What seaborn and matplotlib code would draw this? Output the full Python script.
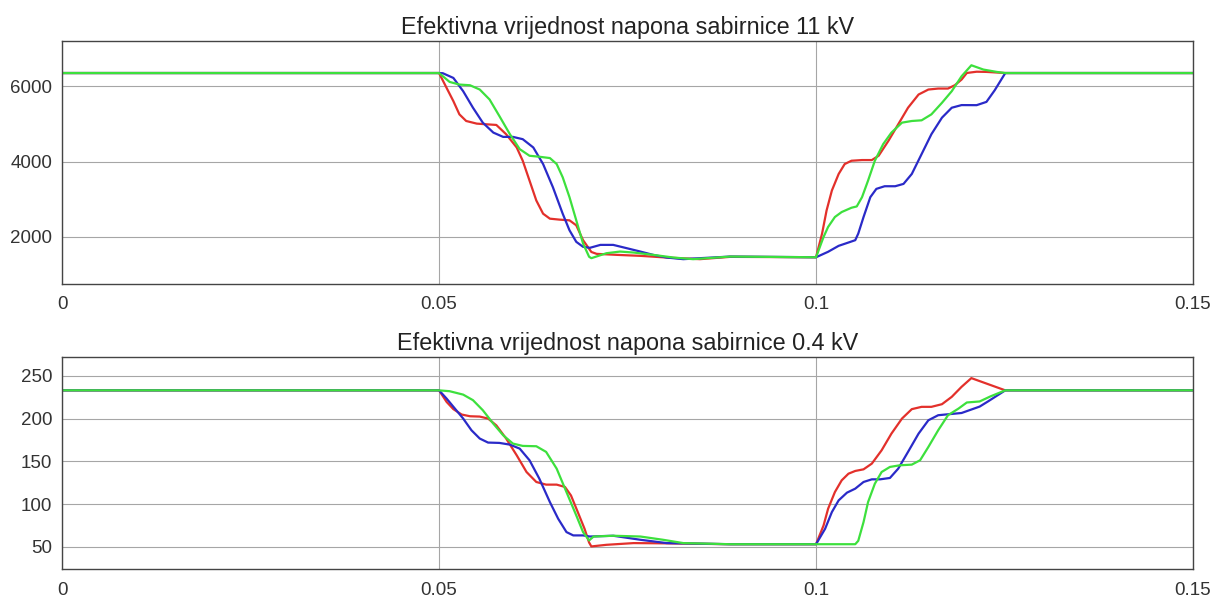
import pandas as pd
import matplotlib
matplotlib.use("Agg")
import matplotlib.pyplot as plt
import seaborn as sns

# -------------------------------
# Data
# -------------------------------
title_11 = "Efektivna vrijednost napona sabirnice 11 kV"
title_04 = "Efektivna vrijednost napona sabirnice 0.4 kV"

x_ticks = [0, 0.05, 0.1, 0.15]
x_tick_labels = ["0", "0.05", "0.1", "0.15"]
y_ticks_11 = [2000, 4000, 6000]
y_ticks_04 = [50, 100, 150, 200, 250]

# 11 kV bus
t_red_11 = [0, 0.05, 0.051, 0.0519, 0.0527, 0.0536, 0.055, 0.0563, 0.0576, 0.0589, 0.0603,
            0.0611, 0.062, 0.0629, 0.0638, 0.0647, 0.066, 0.0673, 0.0682, 0.0691, 0.0702,
            0.0709, 0.0736, 0.0767, 0.0802, 0.0846, 0.0886, 0.1, 0.1008, 0.1014, 0.1021,
            0.103, 0.1038, 0.1047, 0.1061, 0.1074, 0.1083, 0.1096, 0.1109, 0.1122, 0.1136,
            0.1149, 0.1162, 0.1175, 0.1184, 0.1193, 0.12, 0.1213, 0.1226, 0.1251, 0.15]
v_red_11 = [6350, 6350, 5956, 5604, 5253, 5077, 5007, 4989, 4972, 4725, 4374,
            4022, 3495, 2967, 2616, 2484, 2458, 2440, 2308, 1913, 1600,
            1550, 1523, 1497, 1452, 1409, 1470, 1460, 2088, 2704, 3231,
            3671, 3934, 4022, 4040, 4040, 4154, 4550, 4989, 5429, 5780,
            5912, 5938, 5938, 6026, 6176, 6352, 6385, 6380, 6350, 6350]

t_blue_11 = [0, 0.05, 0.0505, 0.0519, 0.0532, 0.0545, 0.0558, 0.0572, 0.0585, 0.0598, 0.0611,
             0.0625, 0.0638, 0.0651, 0.0664, 0.0673, 0.0682, 0.0691, 0.07, 0.0714, 0.0731,
             0.0749, 0.0767, 0.0784, 0.0802, 0.0824, 0.0846, 0.0886, 0.1, 0.1016, 0.103,
             0.1043, 0.1052, 0.1056, 0.1063, 0.1072, 0.108, 0.1091, 0.1105, 0.1116, 0.1127,
             0.114, 0.1153, 0.1167, 0.118, 0.1193, 0.1213, 0.1226, 0.1237, 0.1251, 0.15]
v_blue_11 = [6350, 6350, 6345, 6220, 5868, 5429, 5033, 4769, 4655, 4655, 4594,
             4374, 3934, 3319, 2616, 2176, 1869, 1737, 1710, 1788, 1788,
             1700, 1611, 1523, 1452, 1409, 1435, 1478, 1460, 1605, 1763,
             1851, 1913, 2088, 2528, 3055, 3275, 3345, 3345, 3407, 3671,
             4198, 4726, 5165, 5429, 5499, 5497, 5584, 5894, 6350, 6350]

t_green_11 = [0, 0.05, 0.0514, 0.0527, 0.0541, 0.0554, 0.0567, 0.058, 0.0594, 0.0607, 0.062,
              0.0633, 0.0647, 0.0656, 0.0664, 0.0673, 0.0682, 0.0691, 0.0699, 0.0702, 0.0722,
              0.074, 0.0758, 0.0784, 0.0811, 0.0837, 0.0886, 0.1, 0.101, 0.1016, 0.1025,
              0.1034, 0.1047, 0.1054, 0.1061, 0.1069, 0.1078, 0.1089, 0.11, 0.1114, 0.1127,
              0.114, 0.1153, 0.1167, 0.118, 0.1193, 0.1206, 0.1222, 0.124, 0.1251, 0.15]
v_green_11 = [6350, 6350, 6114, 6044, 6026, 5912, 5648, 5209, 4725, 4330, 4154,
              4128, 4093, 3934, 3583, 3055, 2440, 1825, 1473, 1435, 1567,
              1611, 1585, 1523, 1452, 1409, 1478, 1460, 2000, 2264, 2528,
              2660, 2774, 2809, 3055, 3495, 4022, 4462, 4769, 5033, 5077,
              5095, 5253, 5560, 5868, 6264, 6556, 6442, 6379, 6350, 6350]

# 0.4 kV bus
t_red_04 = [0, 0.05, 0.051, 0.0519, 0.053, 0.0541, 0.0554, 0.0565, 0.0576, 0.0589, 0.0603,
            0.0616, 0.0629, 0.0642, 0.0656, 0.0667, 0.0675, 0.0684, 0.0693, 0.0699, 0.0702,
            0.0722, 0.0758, 0.0802, 0.0886, 0.1, 0.101, 0.1016, 0.1025, 0.1034, 0.1043,
            0.1052, 0.1063, 0.1074, 0.1087, 0.11, 0.1114, 0.1127, 0.114, 0.1153, 0.1167,
            0.118, 0.1193, 0.1206, 0.1251, 0.15]
v_red_04 = [233, 233, 219.5, 211, 204.7, 202.7, 202.3, 200, 192, 176.6, 157,
            137.5, 125.8, 122.7, 122.7, 120, 110, 90.6, 71, 55, 50.4,
            52.3, 54.3, 54, 53, 53, 75, 94.5, 114, 127.7, 135.5,
            138.7, 140.6, 147.3, 162.9, 182.4, 200, 211, 213.7, 213.7, 216.8,
            225.4, 237.1, 247.3, 233, 233]

t_blue_04 = [0, 0.05, 0.051, 0.0521, 0.0532, 0.0543, 0.0554, 0.0565, 0.058, 0.0594, 0.0607,
             0.062, 0.0633, 0.0647, 0.0658, 0.0669, 0.0678, 0.0691, 0.07, 0.0731, 0.0767,
             0.0802, 0.0886, 0.1, 0.1012, 0.1021, 0.103, 0.1041, 0.1052, 0.1063, 0.1074,
             0.1085, 0.1098, 0.1109, 0.1122, 0.1136, 0.1149, 0.1162, 0.1175, 0.1193, 0.1217,
             0.1228, 0.1251, 0.15]
v_blue_04 = [233, 233, 223.4, 211.7, 200, 186.3, 176.6, 171.9, 171.5, 169.5, 164.8,
             151.2, 129.7, 102.3, 82.8, 67.2, 63.3, 63.3, 62, 62.9, 58.2,
             54.3, 53, 53, 71, 90.6, 104.3, 113.3, 118, 125.8, 128.9,
             128.9, 130.5, 141.4, 161, 182.4, 198, 203.9, 205, 206.5, 214,
             220, 233, 233]

t_green_04 = [0, 0.05, 0.0514, 0.0532, 0.0545, 0.0558, 0.0572, 0.0585, 0.0598, 0.0611, 0.0629,
              0.0642, 0.0656, 0.0669, 0.0682, 0.0691, 0.0699, 0.0705, 0.0731, 0.0767, 0.0797,
              0.0824, 0.0886, 0.1, 0.1052, 0.1056, 0.1063, 0.1069, 0.1078, 0.1087, 0.1098,
              0.1111, 0.1127, 0.1138, 0.1149, 0.1162, 0.1175, 0.1189, 0.12, 0.1217, 0.1231,
              0.1251, 0.15]
v_green_04 = [233, 233, 232, 228, 221.5, 209.8, 194, 180.5, 170.7, 168, 167.6,
              161, 141.4, 114, 86.7, 67.2, 57.4, 62, 62.9, 62, 58.2,
              54.3, 53, 53, 53, 57, 78.9, 102.3, 123.8, 137.5, 143.4,
              145.3, 146.1, 151.2, 166.8, 186.3, 203.9, 211.7, 218.8, 220, 225.8,
              233, 233]

colors = {"r": "#e3302b", "b": "#2a2ac8", "g": "#3de03d"}


def long_df(curves):
    parts = []
    for name, (t, v) in curves.items():
        parts.append(pd.DataFrame({"t": t, "v": v, "serija": name}))
    return pd.concat(parts, ignore_index=True)


df_11 = long_df({"r": (t_red_11, v_red_11), "b": (t_blue_11, v_blue_11),
                 "g": (t_green_11, v_green_11)})
df_04 = long_df({"r": (t_red_04, v_red_04), "b": (t_blue_04, v_blue_04),
                 "g": (t_green_04, v_green_04)})

# -------------------------------
# Plot
# -------------------------------
sns.set_theme(style="white")
plt.rcParams["font.family"] = ["Liberation Sans", "DejaVu Sans"]

fig = plt.figure(figsize=(12.19, 5.97), dpi=100)
ax1 = fig.add_axes([0.0509, 0.5243, 0.9278, 0.407])
ax2 = fig.add_axes([0.0509, 0.0469, 0.9278, 0.3551])

panels = [(ax1, df_11, title_11, y_ticks_11, (750, 7200)),
          (ax2, df_04, title_04, y_ticks_04, (24, 272))]

for ax, df, title, yt, ylim in panels:
    sns.lineplot(data=df, x="t", y="v", hue="serija", hue_order=["r", "b", "g"],
                 palette=colors, estimator=None, sort=False, linewidth=1.6,
                 legend=False, ax=ax)
    ax.set_xlim(0, 0.15)
    ax.set_ylim(*ylim)
    ax.set_xticks(x_ticks)
    ax.set_xticklabels(x_tick_labels)
    ax.set_yticks(yt)
    ax.set_xlabel("")
    ax.set_ylabel("")
    ax.grid(True, color="#a6a6a6", linewidth=0.8)
    ax.set_axisbelow(True)
    ax.tick_params(direction="in", length=5, labelsize=13.5, colors="#333333")
    ax.tick_params(axis="x", pad=9)
    ax.tick_params(axis="y", pad=7)
    for s in ax.spines.values():
        s.set_color("#444444")
        s.set_linewidth(1.0)
    ax.set_title(title, fontsize=16.8, pad=5, color="#222222")

fig.savefig("out.png", dpi=100)
